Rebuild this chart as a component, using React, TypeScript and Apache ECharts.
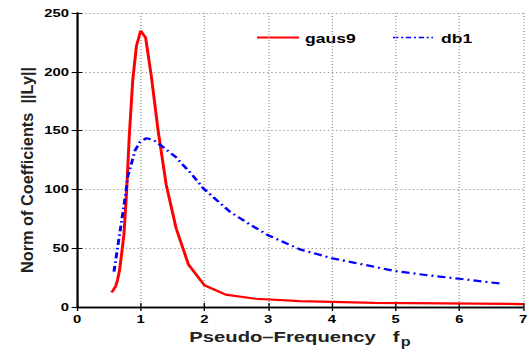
import React, { useEffect, useRef } from "react";
import * as echarts from "echarts";

const gausX = [0.538, 0.56, 0.583, 0.609, 0.636, 0.667, 0.7, 0.737, 0.778, 0.82, 0.875, 0.933, 1.0, 1.077, 1.167, 1.273, 1.4, 1.556, 1.75, 2.0, 2.333, 2.8, 3.5, 4.667, 7.0];
const gausY = [12.5, 13.5, 15.5, 18, 23, 31, 45, 62, 97, 145, 193, 222, 235, 229, 196, 150, 104, 67, 36, 18.5, 10.5, 7, 5, 3.5, 2.5];

const dbX = [0.58, 0.675, 0.75, 0.8, 0.85, 0.91, 0.99, 1.09, 1.2, 1.28, 1.54, 1.8, 1.98, 2.4, 2.72, 3.0, 3.5, 4.0, 4.5, 5.0, 5.5, 6.0, 6.64];
const dbY = [30, 64, 91, 112, 121, 133, 140.5, 143.5, 142, 139, 128, 113, 101, 81, 70, 61, 49, 41.5, 36, 30.5, 27, 24, 20];

const seriesNames = ["gaus9", "db1"];
const xTicks = { min: 0, max: 7, interval: 1 };
const yTicks = { min: 0, max: 250, interval: 50 };

const FONT = "'Liberation Sans', Arial, Helvetica, sans-serif";
// the reference figure is stretched horizontally; draw at a narrower width and stretch
const INNER_W = 393;
const SX = 530 / INNER_W;

export default function App() {
  const ref = useRef<HTMLDivElement>(null);
  useEffect(() => {
    if (!ref.current) return;
    const chart = echarts.init(ref.current, null, { renderer: "svg" });
    const pair = (xs: number[], ys: number[]) => xs.map((x, i) => [x, ys[i]]);
    const tickLabel = { color: "#000", fontFamily: FONT, fontWeight: "bold" as const, fontSize: 11 };
    const axisCommon = {
      type: "value" as const,
      axisLine: { show: true, lineStyle: { color: "#000", width: 1.3 } },
      axisTick: { show: true, inside: true, length: 4, lineStyle: { color: "#000" } },
    };
    const legendY = 37.5;
    chart.setOption({
      animation: false,
      backgroundColor: "#fff",
      grid: { left: 77 / SX, right: 7 / SX, top: 13, height: 294, show: false, outerBoundsMode: "none", containLabel: false },
      xAxis: [
        {
          ...axisCommon,
          min: xTicks.min,
          max: xTicks.max,
          interval: xTicks.interval,
          position: "bottom",
          axisLabel: { ...tickLabel, margin: 7 },
          splitLine: { show: true, lineStyle: { type: [1, 2], color: "#999", width: 1 } },
          name: "{a|Pseudo\u2013Frequency   f}{s|p}",
          nameLocation: "middle",
          nameGap: 16,
          nameTextStyle: {
            rich: {
              a: { fontFamily: FONT, fontWeight: "bold", fontSize: 15, color: "#222" },
              s: { fontFamily: FONT, fontWeight: "bold", fontSize: 12, color: "#222", padding: [9, 0, 0, 1] },
            },
          },
        },
        {
          ...axisCommon,
          min: xTicks.min,
          max: xTicks.max,
          interval: xTicks.interval,
          position: "top",
          axisLabel: { show: false },
          splitLine: { show: false },
        },
      ],
      yAxis: [
        {
          ...axisCommon,
          min: yTicks.min,
          max: yTicks.max,
          interval: yTicks.interval,
          position: "left",
          axisLabel: { ...tickLabel, margin: 6 },
          splitLine: { show: true, lineStyle: { type: [1, 2], color: "#999", width: 1 } },
        },
        {
          ...axisCommon,
          min: yTicks.min,
          max: yTicks.max,
          interval: yTicks.interval,
          position: "right",
          axisLabel: { show: false },
          splitLine: { show: false },
        },
      ],
      graphic: [
        {
          type: "text",
          x: 20,
          y: 170,
          rotation: Math.PI / 2,
          scaleX: 1.36,
          scaleY: 1,
          style: {
            text: "Norm of Coefficients  ||Ly||",
            fontFamily: FONT,
            fontWeight: "bold",
            fontSize: 12,
            fill: "#222",
            align: "center",
            textAlign: "center",
            verticalAlign: "middle",
            textVerticalAlign: "middle",
          },
        },
        {
          type: "line",
          shape: { x1: 257 / SX, y1: legendY, x2: 299 / SX, y2: legendY },
          style: { stroke: "#ff0000", lineWidth: 1.8 },
        },
        {
          type: "text",
          x: 305 / SX,
          y: legendY + 0.5,
          style: { text: seriesNames[0], fontFamily: FONT, fontWeight: "bold", fontSize: 13, fill: "#000", verticalAlign: "middle" },
        },
        {
          type: "line",
          shape: { x1: 393 / SX, y1: legendY, x2: 433 / SX, y2: legendY },
          style: { stroke: "#0000ff", lineWidth: 1.6, lineDash: [4, 2, 1.5, 2] },
        },
        {
          type: "text",
          x: 441 / SX,
          y: legendY + 0.5,
          style: { text: seriesNames[1], fontFamily: FONT, fontWeight: "bold", fontSize: 13, fill: "#000", verticalAlign: "middle" },
        },
      ],
      series: [
        {
          name: seriesNames[0],
          type: "line",
          data: pair(gausX, gausY),
          showSymbol: false,
          symbol: "none",
          lineStyle: { color: "#ff0000", width: 2.2 },
          itemStyle: { color: "#ff0000" },
        },
        {
          name: seriesNames[1],
          type: "line",
          data: pair(dbX, dbY),
          showSymbol: false,
          symbol: "none",
          lineStyle: { color: "#0000ff", width: 2.2, type: [6, 3, 1.5, 3] },
          itemStyle: { color: "#0000ff" },
        },
      ],
    });
    return () => chart.dispose();
  }, []);
  return (
    <div style={{ position: "absolute", left: 0, top: 0, width: 530, height: 349, overflow: "hidden", background: "#fff" }}>
      <div
        ref={ref}
        style={{ width: INNER_W, height: 349, transform: `scaleX(${SX})`, transformOrigin: "0 0" }}
      />
    </div>
  );
}
